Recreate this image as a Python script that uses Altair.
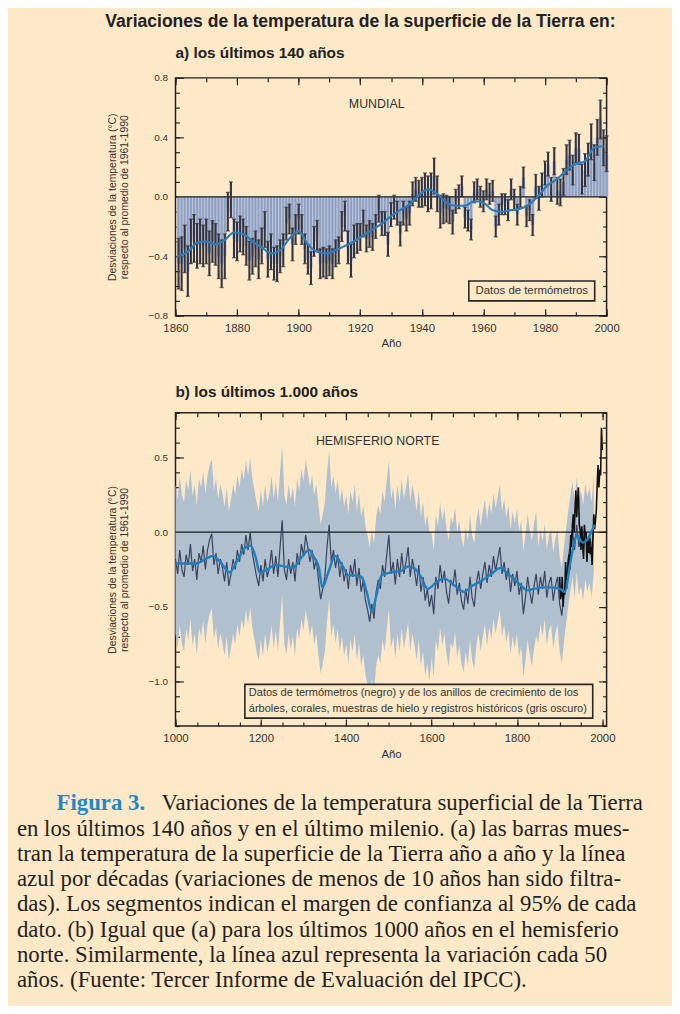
import altair as alt
import pandas as pd

BG = "#FDE8C7"
INK = "#262626"
SANS = "Liberation Sans"
SERIF = "Liberation Serif"

# ---------------- Panel a: last 140 years (global) ----------------
years_a = list(range(1861, 2001))
temp_a = [
    -0.45, -0.45, -0.35, -0.50, -0.30, -0.28, -0.33, -0.30, -0.33, -0.30,
    -0.38, -0.30, -0.32, -0.40, -0.45, -0.40, -0.10, -0.02, -0.28, -0.30,
    -0.25, -0.27, -0.33, -0.43, -0.40, -0.35, -0.42, -0.33, -0.22, -0.42,
    -0.37, -0.45, -0.45, -0.40, -0.36, -0.18, -0.15, -0.32, -0.22, -0.15,
    -0.22, -0.35, -0.42, -0.48, -0.30, -0.26, -0.45, -0.44, -0.45, -0.43,
    -0.45, -0.38, -0.36, -0.20, -0.13, -0.34, -0.43, -0.30, -0.28, -0.27,
    -0.18, -0.28, -0.25, -0.27, -0.20, -0.08, -0.18, -0.18, -0.32, -0.12,
    -0.07, -0.11, -0.25, -0.11, -0.15, -0.11, 0.02, 0.05, 0.02, 0.03,
    0.05, 0.02, 0.04, 0.14, 0.02, -0.10, -0.08, -0.08, -0.09, -0.17,
    -0.03, 0.00, 0.07, -0.14, -0.16, -0.22, 0.03, 0.05, 0.00, -0.03,
    0.05, 0.02, 0.04, -0.20, -0.12, -0.05, -0.05, -0.09, 0.05, -0.02,
    -0.12, 0.00, 0.13, -0.13, -0.09, -0.19, 0.07, -0.01, 0.08, 0.16,
    0.22, 0.05, 0.24, 0.04, 0.03, 0.10, 0.25, 0.28, 0.18, 0.33,
    0.32, 0.12, 0.18, 0.25, 0.37, 0.23, 0.40, 0.52, 0.33, 0.29,
]
err_a = [
    0.17, 0.18, 0.16, 0.17, 0.15, 0.16, 0.15, 0.15, 0.14, 0.15,
    0.15, 0.14, 0.14, 0.15, 0.16, 0.15, 0.13, 0.12, 0.13, 0.13,
    0.12, 0.12, 0.13, 0.13, 0.12, 0.12, 0.13, 0.12, 0.12, 0.12,
    0.12, 0.11, 0.12, 0.11, 0.11, 0.11, 0.10, 0.11, 0.10, 0.10,
    0.10, 0.10, 0.10, 0.11, 0.10, 0.10, 0.10, 0.10, 0.10, 0.10,
    0.10, 0.09, 0.09, 0.10, 0.10, 0.11, 0.11, 0.11, 0.10, 0.09,
    0.09, 0.09, 0.09, 0.09, 0.08, 0.09, 0.08, 0.08, 0.08, 0.08,
    0.08, 0.08, 0.08, 0.08, 0.08, 0.08, 0.08, 0.08, 0.09, 0.10,
    0.11, 0.12, 0.12, 0.12, 0.12, 0.11, 0.10, 0.09, 0.09, 0.08,
    0.08, 0.08, 0.07, 0.07, 0.07, 0.07, 0.07, 0.07, 0.07, 0.07,
    0.07, 0.07, 0.07, 0.07, 0.07, 0.07, 0.07, 0.07, 0.07, 0.07,
    0.07, 0.07, 0.07, 0.07, 0.07, 0.07, 0.08, 0.08, 0.08, 0.08,
    0.08, 0.08, 0.09, 0.09, 0.09, 0.09, 0.10, 0.10, 0.10, 0.10,
    0.10, 0.10, 0.11, 0.11, 0.12, 0.12, 0.12, 0.13, 0.12, 0.12,
]
smooth_a_years = [1861, 1864, 1867, 1870, 1873, 1876, 1879, 1882, 1885, 1888,
                  1891, 1894, 1897, 1900, 1903, 1906, 1909, 1912, 1915, 1918,
                  1921, 1924, 1927, 1930, 1933, 1936, 1939, 1942, 1945, 1948,
                  1951, 1954, 1957, 1960, 1963, 1966, 1969, 1972, 1975, 1978,
                  1981, 1984, 1987, 1990, 1993, 1996, 1999]
smooth_a_vals = [-0.40, -0.37, -0.31, -0.30, -0.32, -0.29, -0.24, -0.25, -0.30, -0.34,
                 -0.38, -0.36, -0.28, -0.23, -0.32, -0.37, -0.38, -0.36, -0.33, -0.30,
                 -0.26, -0.22, -0.18, -0.13, -0.09, -0.05, 0.01, 0.05, 0.02, -0.04,
                 -0.06, -0.06, -0.03, -0.04, -0.09, -0.10, -0.09, -0.08, -0.05, 0.01,
                 0.08, 0.12, 0.18, 0.22, 0.24, 0.33, 0.34]

# ---------------- Panel b: last 1000 years (northern hemisphere) ----------------
recon_years = list(range(1000, 1981, 5))
recon_vals = [
    -0.18, -0.28, -0.12, -0.25, -0.30, -0.15, -0.22, -0.08, -0.26, -0.18,
    -0.32, -0.14, -0.20, -0.09, -0.25, -0.12, -0.05, -0.01, -0.22, -0.14,
    -0.28, -0.18, -0.24, -0.33, -0.20, -0.36, -0.28, -0.18, -0.25, -0.12,
    -0.20, -0.08, -0.15, -0.02, -0.12, 0.00, -0.14, -0.22, -0.30, -0.36,
    -0.22, -0.33, -0.18, -0.30, -0.24, -0.12, -0.28, -0.16, -0.30, -0.10,
    0.08, -0.25, -0.32, -0.18, -0.28, -0.20, -0.33, -0.14, -0.22, -0.08,
    -0.16, -0.02, -0.10, -0.20, -0.12, -0.25, -0.18, -0.32, -0.45, -0.38,
    -0.30, -0.10, 0.05, -0.20, -0.12, -0.24, -0.15, -0.30, -0.20, -0.33,
    -0.25, -0.38, -0.22, -0.30, -0.18, -0.36, -0.24, -0.40, -0.32, -0.46,
    -0.52, -0.60, -0.48, -0.58, -0.40, -0.32, -0.38, -0.22, -0.30, -0.15,
    -0.02, -0.28, -0.20, -0.35, -0.18, -0.30, -0.14, -0.28, -0.20, -0.10,
    -0.30, -0.18, -0.26, -0.36, -0.22, -0.40, -0.30, -0.46, -0.38, -0.50,
    -0.42, -0.55, -0.30, -0.38, -0.22, -0.34, -0.26, -0.40, -0.48, -0.32,
    -0.36, -0.25, -0.42, -0.34, -0.46, -0.52, -0.38, -0.48, -0.30, -0.44,
    -0.50, -0.34, -0.26, -0.38, -0.28, -0.20, -0.34, -0.22, -0.30, -0.16,
    -0.26, -0.18, -0.10, -0.28, -0.20, -0.32, -0.24, -0.40, -0.28, -0.36,
    -0.26, -0.42, -0.34, -0.55, -0.44, -0.30, -0.40, -0.48, -0.36, -0.28,
    -0.42, -0.30, -0.38, -0.26, -0.44, -0.34, -0.30, -0.46, -0.36, -0.30,
    -0.48, -0.56, -0.42, -0.30, -0.18, -0.08, 0.02, -0.12, 0.05, -0.10,
    -0.04, -0.14, 0.00, -0.08, -0.02, -0.12, 0.06,
]
# half-width of the grey uncertainty band, by period
unc_period_start = [1000, 1600, 1850]
unc_period_half = [0.50, 0.42, 0.32]

smooth_b_years = [1000, 1011, 1030, 1049, 1070, 1088, 1105, 1127, 1145, 1165,
                  1176, 1188, 1197, 1215, 1234, 1255, 1274, 1295, 1313, 1325,
                  1336, 1344, 1358, 1374, 1390, 1406, 1420, 1436, 1448, 1460,
                  1471, 1483, 1505, 1529, 1545, 1559, 1575, 1591, 1610, 1629,
                  1650, 1676, 1695, 1715, 1740, 1761, 1775, 1792, 1810, 1824,
                  1840, 1861, 1880, 1901, 1912, 1924, 1935, 1940, 1954, 1965,
                  1977, 1982]
smooth_b_vals = [-0.21, -0.21, -0.21, -0.21, -0.18, -0.16, -0.20, -0.27, -0.19, -0.10,
                 -0.09, -0.17, -0.27, -0.25, -0.22, -0.23, -0.24, -0.17, -0.12, -0.17,
                 -0.24, -0.37, -0.27, -0.16, -0.22, -0.29, -0.29, -0.30, -0.40, -0.53,
                 -0.42, -0.29, -0.27, -0.26, -0.23, -0.24, -0.30, -0.38, -0.34, -0.31,
                 -0.35, -0.40, -0.36, -0.33, -0.28, -0.24, -0.27, -0.31, -0.36, -0.39,
                 -0.38, -0.37, -0.37, -0.38, -0.40, -0.22, -0.06, -0.02, -0.07, -0.05,
                 0.02, 0.05]

instr_years = list(range(1900, 2001, 2))
instr_vals = [
    -0.30, -0.45, -0.42, -0.30, -0.50, -0.40, -0.42, -0.20, -0.38, -0.30,
    -0.22, -0.15, -0.25, -0.02, -0.10, 0.05, 0.12, 0.00, 0.15, 0.28,
    0.10, 0.22, 0.30, 0.05, 0.02, -0.12, 0.04, -0.08, -0.18, 0.05,
    -0.02, 0.00, -0.20, -0.06, -0.14, -0.04, -0.15, -0.10, -0.22, -0.05,
    0.12, 0.02, 0.08, 0.15, 0.32, 0.45, 0.30, 0.42, 0.38, 0.70,
    0.55,
]

# ---------------- Texts ----------------
main_title = "Variaciones de la temperatura de la superficie de la Tierra en:"
title_a = "a) los últimos 140 años"
title_b = "b) los últimos 1.000 años"
y_title = ["Desviaciones de la temperatura (°C)", "respecto al promedio de 1961-1990"]
x_title = "Año"
label_a = "MUNDIAL"
label_b = "HEMISFERIO NORTE"
legend_a = "Datos de termómetros"
legend_b = ["Datos de termómetros (negro) y de los anillos de crecimiento de los",
            "árboles, corales, muestras de hielo y registros históricos (gris oscuro)"]
caption_head = "Figura 3."
caption_lines = [
    "Variaciones de la temperatura superficial de la Tierra",
    "en los últimos 140 años y en el último milenio. (a) las barras mues-",
    "tran la temperatura de la superficie de la Tierra año a año y la línea",
    "azul por décadas (variaciones de menos de 10 años han sido filtra-",
    "das). Los segmentos indican el margen de confianza al 95% de cada",
    "dato. (b) Igual que (a) para los últimos 1000 años en el hemisferio",
    "norte. Similarmente, la línea azul representa la variación cada 50",
    "años. (Fuente: Tercer Informe de Evaluación del IPCC).",
]

# ---------------- Tables ----------------
df_a = pd.DataFrame({"year": years_a, "v": temp_a, "e": err_a})
df_a["x0"] = df_a["year"] - 0.5
df_a["x1"] = df_a["year"] + 0.5
df_a["base"] = 0.0
df_a["lo"] = df_a["v"] - df_a["e"]
df_a["hi"] = df_a["v"] + df_a["e"]
df_sa = pd.DataFrame({"year": smooth_a_years, "v": smooth_a_vals})


def half_width(y):
    h = unc_period_half[0]
    for s, w in zip(unc_period_start, unc_period_half):
        if y >= s:
            h = w
    return h


df_r = pd.DataFrame({"year": recon_years, "v": recon_vals})
df_r["lo"] = [v - half_width(y) for y, v in zip(recon_years, recon_vals)]
df_r["hi"] = [v + half_width(y) for y, v in zip(recon_years, recon_vals)]
df_sb = pd.DataFrame({"year": smooth_b_years, "v": smooth_b_vals})
df_i = pd.DataFrame({"year": instr_years, "v": instr_vals})
zero_df = pd.DataFrame({"z": [0.0]})
one = pd.DataFrame({"k": [0]})

# ---------------- Axis helpers ----------------
def tick_axis(orient, values, size):
    return alt.Axis(orient=orient, values=values, tickSize=size, offset=-size,
                    labels=False, domain=False, grid=False, title=None,
                    ticks=True, tickColor=INK, tickWidth=1.2)


def label_axis_x(values):
    return alt.Axis(orient="bottom", values=values, format="d", ticks=False,
                    domain=False, grid=False, labelPadding=7, labelFontSize=11.5,
                    labelFlush=False, labelOverlap=False,
                    title=x_title, titlePadding=4, titleFontSize=11.5)


def label_axis_y(values):
    return alt.Axis(orient="left", values=values, format=".1f", ticks=False,
                    domain=False, grid=False, labelPadding=8, labelFontSize=10,
                    labelFlush=False, labelOverlap=False,
                    title=y_title, titlePadding=19, titleLineHeight=12,
                    titleFontSize=10.5)


W = 435
HA = 240
HB = 316

# ---------------- Panel a ----------------
xa = alt.Scale(domain=[1860, 2000], nice=False, zero=False)
ya = alt.Scale(domain=[-0.8, 0.8], nice=False, zero=False)
xa_major = list(range(1860, 2001, 20))
xa_minor = list(range(1860, 2001, 10))
ya_major = [-0.8, -0.4, 0.0, 0.4, 0.8]
ya_minor = [round(-0.8 + 0.1 * i, 1) for i in range(17)]

ERR = "#33333F"
base_a = alt.Chart(df_a)
bars_a = base_a.mark_bar(fill="#8E9FC1", stroke="#CDD5E6", strokeWidth=0.6).encode(
    x=alt.X("x0:Q", scale=xa, axis=label_axis_x(xa_major)),
    x2="x1:Q",
    y=alt.Y("v:Q", scale=ya, axis=label_axis_y(ya_major)),
    y2="base:Q",
)
zero_a = alt.Chart(zero_df).mark_rule(color="#1a1a1a", strokeWidth=1.3).encode(
    y=alt.Y("z:Q", scale=ya, axis=None)
)
err_rules = base_a.mark_rule(color=ERR, strokeWidth=2.1).encode(
    x=alt.X("year:Q", scale=xa, axis=tick_axis("bottom", xa_major, 7)),
    y=alt.Y("lo:Q", scale=ya, axis=tick_axis("left", ya_major, 8)),
    y2="hi:Q",
)
caps_lo = base_a.mark_tick(orient="horizontal", color=ERR, size=4, thickness=1.3).encode(
    x=alt.X("year:Q", scale=xa, axis=tick_axis("bottom", xa_minor, 4)),
    y=alt.Y("lo:Q", scale=ya, axis=tick_axis("left", ya_minor, 4)),
)
caps_hi = base_a.mark_tick(orient="horizontal", color=ERR, size=4, thickness=1.3).encode(
    x=alt.X("year:Q", scale=xa, axis=tick_axis("top", xa_major, 7)),
    y=alt.Y("hi:Q", scale=ya, axis=tick_axis("right", ya_major, 8)),
)
line_a = alt.Chart(df_sa).mark_line(color="#2E7DBA", strokeWidth=2.2, interpolate="monotone").encode(
    x=alt.X("year:Q", scale=xa, axis=tick_axis("top", xa_minor, 4)),
    y=alt.Y("v:Q", scale=ya, axis=tick_axis("right", ya_minor, 4)),
)
txt_a = alt.Chart(one).mark_text(font=SANS, fontSize=12.5, color="#333", align="center", baseline="middle").encode(
    x=alt.value(203), y=alt.value(26), text=alt.value(label_a)
)
box_a = alt.Chart(one).mark_rect(fill=BG, stroke=INK, strokeWidth=1.6).encode(
    x=alt.value(296), x2=alt.value(423), y=alt.value(205), y2=alt.value(225)
)
leg_a = alt.Chart(one).mark_text(font=SANS, fontSize=11.5, color="#333", align="center", baseline="middle").encode(
    x=alt.value(359.5), y=alt.value(215.5), text=alt.value(legend_a)
)

panel_a = alt.layer(
    bars_a, zero_a, err_rules, caps_lo, caps_hi, line_a, txt_a, box_a, leg_a
).resolve_axis(x="independent", y="independent").properties(
    width=W, height=HA,
    title=alt.TitleParams(title_a, anchor="start", frame="group", font=SANS, fontSize=15.5,
                          fontWeight="bold", color="#222", offset=12),
)

# ---------------- Panel b ----------------
xb = alt.Scale(domain=[1000, 2010], nice=False, zero=False)
yb = alt.Scale(domain=[-1.3, 0.8], nice=False, zero=False)
xb_major = list(range(1000, 2001, 200))
xb_minor = list(range(1000, 2001, 50))
yb_major = [-1.0, -0.5, 0.0, 0.5]
yb_minor = [round(-1.3 + 0.1 * i, 1) for i in range(22)]

# caption geometry, relative to the plot area of panel b
CAP_X = -160
CAP_Y0 = 394
CAP_DY = 25.5

cap_bg = alt.Chart(one).mark_rect(fill=BG, stroke=None).encode(
    x=alt.value(CAP_X - 4), x2=alt.value(496), y=alt.value(360), y2=alt.value(CAP_Y0 + 7 * CAP_DY + 18)
)
band_b = alt.Chart(df_r).mark_area(color="#B0C0CF", opacity=1).encode(
    x=alt.X("year:Q", scale=xb, axis=label_axis_x(xb_major)),
    y=alt.Y("lo:Q", scale=yb, axis=label_axis_y(yb_major)),
    y2="hi:Q",
)
recon_b = alt.Chart(df_r).mark_line(color="#39425F", strokeWidth=1.2).encode(
    x=alt.X("year:Q", scale=xb, axis=tick_axis("bottom", xb_major, 7)),
    y=alt.Y("v:Q", scale=yb, axis=tick_axis("left", yb_major, 8)),
)
zero_b = alt.Chart(zero_df).mark_rule(color="#1a1a1a", strokeWidth=1.3).encode(
    y=alt.Y("z:Q", scale=yb, axis=None)
)
instr_b = alt.Chart(df_i).mark_line(color="#111111", strokeWidth=1.6).encode(
    x=alt.X("year:Q", scale=xb, axis=tick_axis("bottom", xb_minor, 4)),
    y=alt.Y("v:Q", scale=yb, axis=tick_axis("left", yb_minor, 4)),
)
line_b = alt.Chart(df_sb).mark_line(color="#1F7FBA", strokeWidth=2.4, interpolate="monotone").encode(
    x=alt.X("year:Q", scale=xb, axis=tick_axis("top", xb_major, 7)),
    y=alt.Y("v:Q", scale=yb, axis=tick_axis("right", yb_major, 8)),
)
ghost_b = alt.Chart(df_sb).mark_point(opacity=0).encode(
    x=alt.X("year:Q", scale=xb, axis=tick_axis("top", xb_minor, 4)),
    y=alt.Y("v:Q", scale=yb, axis=tick_axis("right", yb_minor, 4)),
)
txt_b = alt.Chart(one).mark_text(font=SANS, fontSize=12.5, color="#333", align="center", baseline="middle").encode(
    x=alt.value(204), y=alt.value(28), text=alt.value(label_b)
)
box_b = alt.Chart(one).mark_rect(fill=BG, stroke=INK, strokeWidth=1.6).encode(
    x=alt.value(70), x2=alt.value(421), y=alt.value(274), y2=alt.value(308)
)
leg_b = [
    alt.Chart(one).mark_text(font=SANS, fontSize=11.1, color="#333", align="left", baseline="middle").encode(
        x=alt.value(74), y=alt.value(283 + 16 * i), text=alt.value(t)
    )
    for i, t in enumerate(legend_b)
]

cap_layers = [
    alt.Chart(one).mark_text(font=SERIF, fontSize=23, fontWeight="bold", color="#1E88C8",
                             align="left", baseline="middle").encode(
        x=alt.value(CAP_X + 40), y=alt.value(CAP_Y0), text=alt.value(caption_head)
    )
]
for i, t in enumerate(caption_lines):
    cap_layers.append(
        alt.Chart(one).mark_text(font=SERIF, fontSize=23, color="#231F20",
                                 align="left", baseline="middle").encode(
            x=alt.value(CAP_X + 146 if i == 0 else CAP_X),
            y=alt.value(CAP_Y0 + CAP_DY * i),
            text=alt.value(t),
        )
    )

panel_b = alt.layer(
    cap_bg, band_b, zero_b, recon_b, instr_b, line_b, ghost_b, txt_b, box_b, *leg_b, *cap_layers
).resolve_axis(x="independent", y="independent").properties(
    width=W, height=HB,
    title=alt.TitleParams(title_b, anchor="start", frame="group", font=SANS, fontSize=15.5,
                          fontWeight="bold", color="#222", offset=12),
)

chart = alt.vconcat(panel_a, panel_b, spacing=98, bounds="flush").properties(
    title=alt.TitleParams(main_title, anchor="start", frame="bounds", dx=94, font=SANS,
                          fontSize=17.7, fontWeight="bold", color="#222", offset=14),
    padding={"left": 4, "right": 4, "top": 1, "bottom": 2},
    background=BG,
).configure_view(stroke="#222222", strokeWidth=1.5).configure_axis(
    labelFont=SANS, labelFontSize=10, labelColor="#333333",
    titleFont=SANS, titleFontSize=10, titleFontWeight="normal", titleColor="#333333",
)

chart.save("out.html", embed_options={"renderer": "svg", "actions": False})
